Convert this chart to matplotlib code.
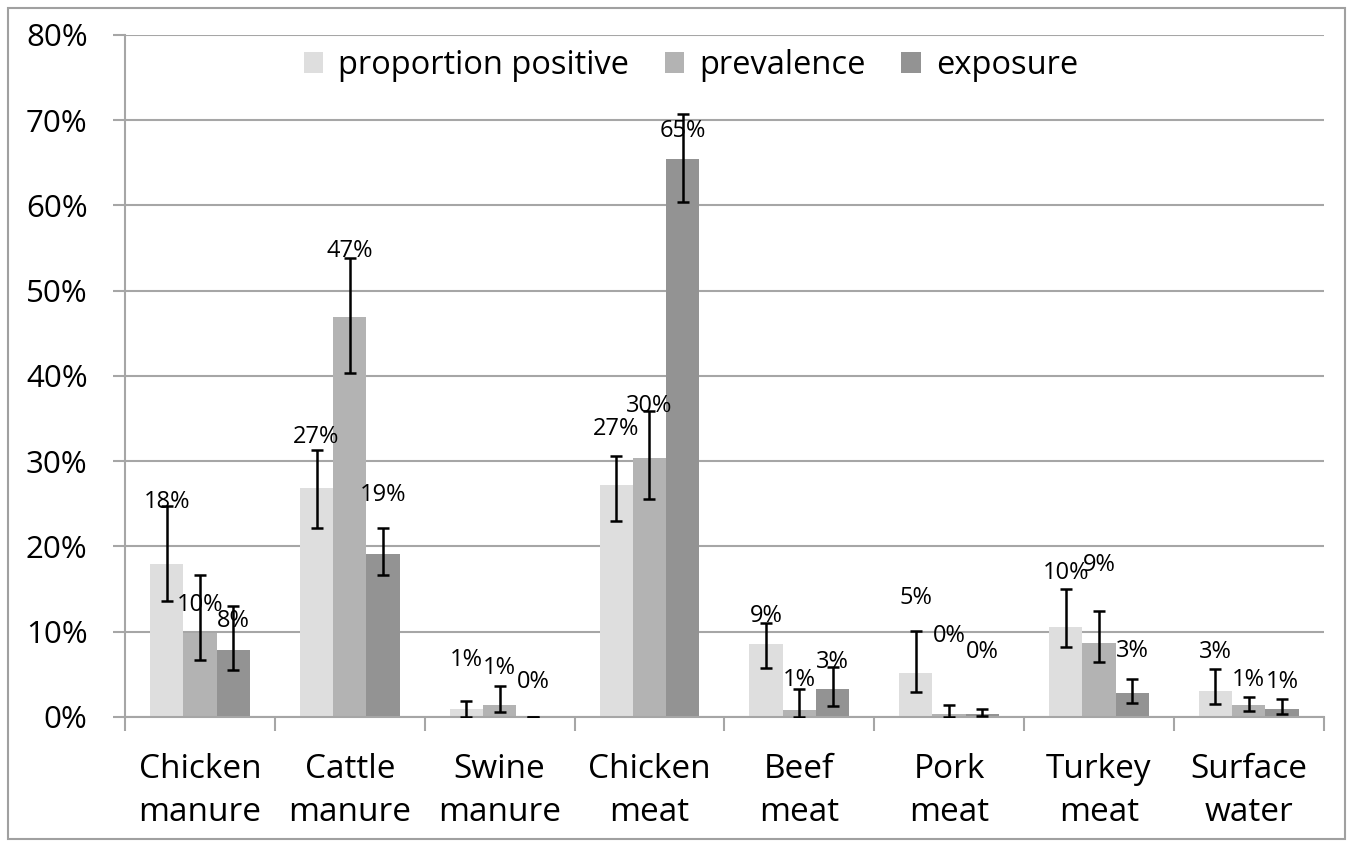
import numpy as np
import matplotlib
matplotlib.use("Agg")
import matplotlib.pyplot as plt
from matplotlib.patches import Rectangle
from matplotlib.ticker import PercentFormatter

plt.rcParams['font.family'] = ['Open Sans', 'DejaVu Sans']

categories = ["Chicken\nmanure", "Cattle\nmanure", "Swine\nmanure", "Chicken\nmeat",
              "Beef\nmeat", "Pork\nmeat", "Turkey\nmeat", "Surface\nwater"]
series = ["proportion positive", "prevalence", "exposure"]

# values in percent
prop_pos = [17.9, 26.9, 0.9, 27.2, 8.6, 5.1, 10.5, 3.05]
prevalence = [9.9, 46.9, 1.4, 30.4, 0.8, 0.4, 8.7, 1.4]
exposure = [7.9, 19.1, 0.05, 65.4, 3.3, 0.35, 2.85, 0.9]

# lower / upper ends of the intervals
prop_lo = [13.6, 22.2, 0.0, 23.0, 5.7, 2.9, 8.2, 1.5]
prop_hi = [24.8, 31.3, 1.9, 30.6, 11.0, 10.1, 15.0, 5.6]
prev_lo = [6.7, 40.4, 0.6, 25.6, 0.0, 0.0, 6.4, 0.7]
prev_hi = [16.7, 53.8, 3.6, 35.9, 3.3, 1.4, 12.4, 2.4]
expo_lo = [5.5, 16.6, 0.05, 60.4, 1.3, 0.1, 1.6, 0.4]
expo_hi = [13.0, 22.2, 0.05, 70.7, 5.9, 0.9, 4.4, 2.1]

# heights at which the value labels sit
prop_lab_y = [25.2, 32.8, 6.7, 33.8, 11.8, 14.0, 16.9, 7.6]
prev_lab_y = [13.1, 54.7, 5.7, 36.5, 4.3, 9.5, 17.8, 4.3]
expo_lab_y = [11.3, 26.0, 4.1, 68.7, 6.5, 7.6, 7.7, 4.1]

colors = ["#dedede", "#b3b3b3", "#939393"]
grid_col = "#a6a6a6"

fig = plt.figure(figsize=(13.52, 8.43), dpi=100)
fig.patches.append(Rectangle((8 / 1352, 4 / 843), 1337 / 1352, 831 / 843,
                             transform=fig.transFigure, fill=False,
                             edgecolor="#a0a0a0", linewidth=1.5))
ax = fig.add_axes([0.0925, 0.1495, 0.8865, 0.809])

x = np.arange(len(categories))
w = 0.222
vals = [prop_pos, prevalence, exposure]
los = [prop_lo, prev_lo, expo_lo]
his = [prop_hi, prev_hi, expo_hi]
labs = [prop_lab_y, prev_lab_y, expo_lab_y]

for i in range(3):
    pos = x + (i - 1) * w
    v = np.array(vals[i])
    ax.bar(pos, v, w, color=colors[i], label=series[i], zorder=2)
    err = [v - np.array(los[i]), np.array(his[i]) - v]
    ax.errorbar(pos, v, yerr=err, fmt="none", ecolor="black", elinewidth=1.8,
                capsize=4.5, capthick=1.8, zorder=3)
    for xp, val, ly in zip(pos, v, labs[i]):
        ax.text(xp, ly, f"{val:.0f}%", ha="center", va="center", fontsize=17,
                color="black", zorder=4)

ax.set_xlim(-0.5, len(categories) - 0.5)
ax.set_ylim(0, 80)
ax.set_yticks(np.arange(0, 81, 10))
ax.yaxis.set_major_formatter(PercentFormatter(decimals=0))
ax.grid(axis="y", color=grid_col, linewidth=1.5, zorder=0)
ax.set_axisbelow(True)

ax.set_xticks(x)
ax.set_xticklabels(categories, fontsize=24, linespacing=1.4)
ax.set_xticks(np.arange(-0.5, len(categories)), minor=True)
ax.tick_params(axis="x", which="major", length=0, pad=26)
ax.tick_params(axis="x", which="minor", length=10, width=1.5, color=grid_col, direction="out")
ax.tick_params(axis="y", length=9, width=1.5, color=grid_col, labelsize=22.5, pad=18)

for s in ["top", "right"]:
    ax.spines[s].set_visible(False)
ax.spines["left"].set_color(grid_col)
ax.spines["left"].set_linewidth(1.5)
ax.spines["bottom"].set_color(grid_col)
ax.spines["bottom"].set_linewidth(1.5)

ax.legend(loc="center", bbox_to_anchor=(0.472, 0.955), ncol=3, frameon=False,
          fontsize=23.5, handlelength=0.6, handleheight=0.6, handletextpad=0.45,
          columnspacing=1.1)

fig.savefig("out.png", dpi=100)
